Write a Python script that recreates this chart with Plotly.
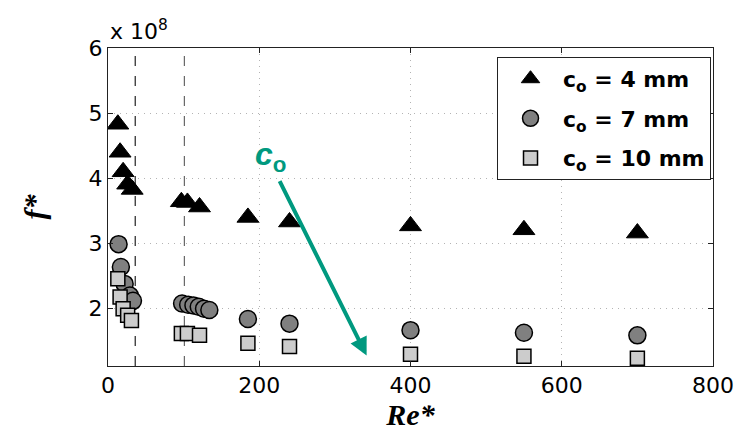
import plotly.graph_objects as go

# Data (f* in units of 1e8)
re_4mm = [13, 16, 20, 26, 32, 97, 105, 121, 185, 240, 400, 550, 700]
f_4mm = [4.83, 4.40, 4.10, 3.91, 3.83, 3.64, 3.63, 3.56, 3.40, 3.33, 3.27, 3.21, 3.16]

re_7mm = [14, 17, 22, 29, 33, 98, 106, 113, 120, 127, 134, 185, 240, 400, 550, 700]
f_7mm = [2.99, 2.64, 2.38, 2.20, 2.12, 2.08, 2.06, 2.05, 2.03, 2.00, 1.98, 1.84, 1.77, 1.67, 1.63, 1.59]

re_10mm = [13, 16, 20, 26, 31, 97, 105, 121, 185, 240, 400, 550, 700]
f_10mm = [2.46, 2.18, 2.00, 1.90, 1.82, 1.62, 1.62, 1.59, 1.47, 1.42, 1.30, 1.27, 1.24]

x_ticks = [0, 200, 400, 600, 800]
y_ticks = [2, 3, 4, 5, 6]
dashed_re = [36, 101]

teal = "#00997f"

fig = go.Figure()
fig.add_trace(go.Scatter(x=re_4mm, y=f_4mm, mode="markers", name="<b>c<sub>o</sub> = 4 mm</b>",
                         legendgroup="a",
                         marker=dict(symbol="triangle-up", size=19, color="black",
                                     line=dict(color="black", width=1))))
fig.add_trace(go.Scatter(x=re_7mm, y=f_7mm, mode="markers", name="<b>c<sub>o</sub> = 7 mm</b>",
                         legendgroup="b",
                         marker=dict(symbol="circle", size=17, color="#808080",
                                     line=dict(color="black", width=1.5))))
fig.add_trace(go.Scatter(x=re_10mm, y=f_10mm, mode="markers", name="<b>c<sub>o</sub> = 10 mm</b>",
                         legendgroup="c",
                         marker=dict(symbol="square", size=14, color="#cccccc",
                                     line=dict(color="black", width=1.5))))

for i, xv in enumerate(dashed_re):
    fig.add_shape(type="line", x0=xv, x1=xv, y0=0, y1=1, xref="x", yref="y domain",
                  line=dict(color="#222" if i == 0 else "#666", width=1.2, dash="10px,10px"),
                  layer="below")

fig.add_annotation(x=342, y=1.28, ax=226, ay=3.98, xref="x", yref="y", axref="x", ayref="y",
                   showarrow=True, arrowhead=2, arrowsize=0.9, arrowwidth=4, arrowcolor=teal,
                   standoff=0, text="")
fig.add_annotation(x=215, y=4.33, xref="x", yref="y", showarrow=False,
                   text="<b><i>c</i></b><sub><b>o</b></sub>",
                   font=dict(family="Liberation Sans", size=32, color=teal))
fig.add_annotation(x=0, y=1, xref="paper", yref="paper", xanchor="left", yanchor="bottom",
                   showarrow=False, text="x 10<sup>8</sup>", yshift=2,
                   font=dict(family="DejaVu Sans", size=22, color="black"))

axis_common = dict(showline=True, linecolor="#222", linewidth=1, mirror="ticks",
                   ticks="inside", ticklen=5, tickcolor="#222", zeroline=False,
                   showgrid=True, gridcolor="#b4b4b4", griddash="1px,5px", gridwidth=1,
                   tickfont=dict(family="DejaVu Sans", size=22, color="black"))

fig.update_xaxes(range=[0, 800], tickvals=x_ticks, **axis_common,
                 title=dict(text="<b><i>Re*</i></b>", standoff=4,
                            font=dict(family="Liberation Serif", size=30, color="black")))
fig.update_yaxes(range=[1.12, 6], tickvals=y_ticks, **axis_common,
                 title=dict(text="<b><i>f*</i></b>", standoff=34,
                            font=dict(family="Liberation Serif", size=30, color="black")))

fig.update_layout(
    width=746, height=435,
    margin=dict(l=108, r=30, t=48, b=67),
    plot_bgcolor="white", paper_bgcolor="white",
    showlegend=True,
    legend=dict(x=0.643, y=0.972, xanchor="left", yanchor="top",
                bgcolor="white", bordercolor="#222", borderwidth=1,
                font=dict(family="DejaVu Sans", size=22, color="black"),
                itemsizing="trace", tracegroupgap=8, itemwidth=55),
)

fig.write_html("out.html")
